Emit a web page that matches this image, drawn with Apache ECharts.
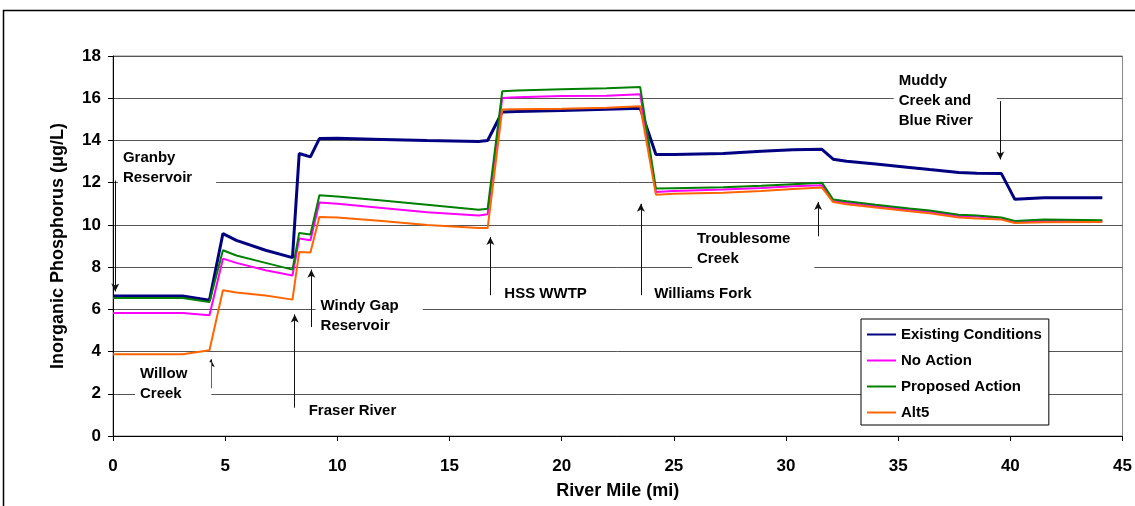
<!DOCTYPE html>
<html>
<head>
<meta charset="utf-8">
<script src="https://cdn.jsdelivr.net/npm/echarts@6/dist/echarts.min.js"></script>
<style>
  html, body { margin: 0; padding: 0; background: #fff; }
  #chart { width: 1135px; height: 506px; }
</style>
</head>
<body>
<div id="chart"></div>
<script>
// river mile of each sampled point
var miles = [0, 3.1, 4.3, 4.9, 5.5, 6.8, 8.0, 8.3, 8.8, 9.2, 10, 12, 14, 16.3, 16.7, 17.35, 18, 20, 22, 23.5,
  24.2, 25, 27.2, 28.9, 30.3, 31.6, 32.1, 32.7, 34, 35.5, 36.4, 37.7, 38.5, 39.6, 40.2, 41.5, 44.1];

var existing = [6.63, 6.63, 6.43, 9.59, 9.27, 8.8, 8.45, 13.38, 13.22, 14.09, 14.1, 14.05, 14.0, 13.95, 14.0, 15.35, 15.37, 15.42, 15.48, 15.52,
  13.33, 13.33, 13.38, 13.49, 13.56, 13.58, 13.11, 13.01, 12.88, 12.72, 12.62, 12.48, 12.45, 12.43, 11.21, 11.29, 11.29];
var noAction = [5.83, 5.83, 5.72, 8.4, 8.2, 7.85, 7.6, 9.35, 9.27, 11.06, 11.0, 10.8, 10.6, 10.45, 10.5, 16.01, 16.05, 16.1, 16.12, 16.19,
  11.56, 11.6, 11.68, 11.75, 11.83, 11.88, 11.12, 11.05, 10.88, 10.72, 10.62, 10.42, 10.4, 10.3, 10.14, 10.2, 10.18];
var proposed = [6.54, 6.54, 6.35, 8.8, 8.55, 8.2, 7.88, 9.62, 9.55, 11.4, 11.35, 11.15, 10.95, 10.72, 10.77, 16.33, 16.37, 16.43, 16.47, 16.53,
  11.72, 11.74, 11.78, 11.85, 11.93, 12.0, 11.2, 11.12, 10.95, 10.78, 10.68, 10.48, 10.45, 10.35, 10.19, 10.25, 10.22];
var alt5 = [3.87, 3.87, 4.06, 6.9, 6.8, 6.65, 6.46, 8.72, 8.69, 10.37, 10.35, 10.18, 10.0, 9.85, 9.85, 15.46, 15.48, 15.5, 15.55, 15.62,
  11.43, 11.48, 11.52, 11.6, 11.7, 11.77, 11.08, 10.98, 10.82, 10.65, 10.55, 10.35, 10.3, 10.25, 10.09, 10.12, 10.14];

var seriesNames = ["Existing Conditions", "No Action", "Proposed Action", "Alt5"];

// tributary notes: text, top-left corner of the text box (mile, value)
var noteText = ["Granby\nReservoir", "Willow\nCreek", "Fraser River", "Windy Gap\nReservoir", "HSS WWTP",
  "Williams Fork", "Troublesome\nCreek", "Muddy\nCreek and\nBlue River"];
var noteMile = [0.22, 0.98, 8.5, 9.03, 17.22, 23.9, 25.81, 34.8];
var noteTop = [13.72, 3.49, 1.74, 6.71, 7.28, 7.28, 9.93, 17.37];

// arrows: mile, tail value, head value
var arrowMile = [0.1, 4.36, 8.1, 8.84, 16.82, 23.53, 31.43, 39.55];
var arrowFrom = [12.1, 2.26, 1.34, 5.16, 6.67, 6.67, 9.46, 15.86];
var arrowTo = [6.85, 3.63, 5.76, 7.88, 9.43, 11.0, 11.08, 13.1];

function pairs(ys) {
  return miles.map(function (m, i) { return [m, ys[i]]; });
}

var font = "'Liberation Sans', Arial, sans-serif";

var chart = echarts.init(document.getElementById("chart"));

var option = {
  backgroundColor: "#fff",
  animation: false,
  textStyle: { fontFamily: font },
  graphic: [{
    type: "rect",
    shape: { x: 3.5, y: 10.5, width: 1200, height: 600 },
    style: { fill: "none", stroke: "#000", lineWidth: 1.5 },
    silent: true
  }],
  grid: {
    left: 113, right: 11, top: 56, bottom: 70,
    show: true, borderColor: "#888", borderWidth: 1
  },
  legend: {
    data: seriesNames,
    orient: "vertical",
    left: 861, top: 319,
    padding: [7, 7, 4, 5],
    itemWidth: 29, itemHeight: 16, itemGap: 9,
    itemStyle: { opacity: 0 },
    backgroundColor: "#fff",
    borderColor: "#000", borderWidth: 1, borderRadius: 0,
    textStyle: { fontSize: 15, fontWeight: "bold", color: "#000", fontFamily: font, lineHeight: 17 }
  },
  xAxis: {
    type: "value", min: 0, max: 45, interval: 5,
    name: "River Mile (mi)", nameLocation: "middle", nameGap: 46,
    nameTextStyle: { fontSize: 18, fontWeight: "bold", color: "#000" },
    axisLine: { lineStyle: { color: "#000" } },
    axisTick: { show: true, length: 5, lineStyle: { color: "#000" } },
    axisLabel: { fontSize: 17, fontWeight: "bold", color: "#000", margin: 22 },
    splitLine: { show: false }
  },
  yAxis: {
    type: "value", min: 0, max: 18, interval: 2,
    name: "Inorganic Phosphorus (\u03bcg/L)", nameLocation: "middle", nameGap: 46,
    nameTextStyle: { fontSize: 18, fontWeight: "bold", color: "#000" },
    axisLine: { show: true, lineStyle: { color: "#000" } },
    axisTick: { show: true, length: 5, lineStyle: { color: "#000" } },
    axisLabel: { fontSize: 17, fontWeight: "bold", color: "#000", margin: 12 },
    splitLine: { lineStyle: { color: "#555", width: 1 } }
  },
  series: [
    { name: seriesNames[0], type: "line", data: pairs(existing), symbol: "none", color: "#000080", lineStyle: { width: 3 } },
    { name: seriesNames[1], type: "line", data: pairs(noAction), symbol: "none", color: "#ff00ff", lineStyle: { width: 2 } },
    { name: seriesNames[2], type: "line", data: pairs(proposed), symbol: "none", color: "#008000", lineStyle: { width: 2 } },
    { name: seriesNames[3], type: "line", data: pairs(alt5), symbol: "none", color: "#ff6600", lineStyle: { width: 2 } },
    {
      name: "notes", type: "line", data: [], silent: true, z: 5,
      markPoint: {
        silent: true, symbol: "rect", symbolSize: 0,
        label: {
          show: true, position: [0, 0], align: "left", verticalAlign: "top",
          formatter: "{b}", fontSize: 15, fontWeight: "bold", color: "#000",
          lineHeight: 20, backgroundColor: "#fff", padding: [2, 24, 2, 5]
        },
        data: noteText.map(function (t, i) {
          return { name: t, coord: [noteMile[i], noteTop[i]] };
        })
      }
    },
    {
      name: "arrows", type: "line", data: [], silent: true, z: 6,
      markLine: {
        silent: true, symbol: ["none", "arrow"], symbolSize: [6, 8],
        lineStyle: { color: "#111", width: 1, type: "solid" },
        label: { show: false },
        data: arrowMile.map(function (m, i) {
          return [{ coord: [m, arrowFrom[i]] }, { coord: [m, arrowTo[i]] }];
        })
      }
    }
  ]
};

chart.setOption(option);
</script>
</body>
</html>
